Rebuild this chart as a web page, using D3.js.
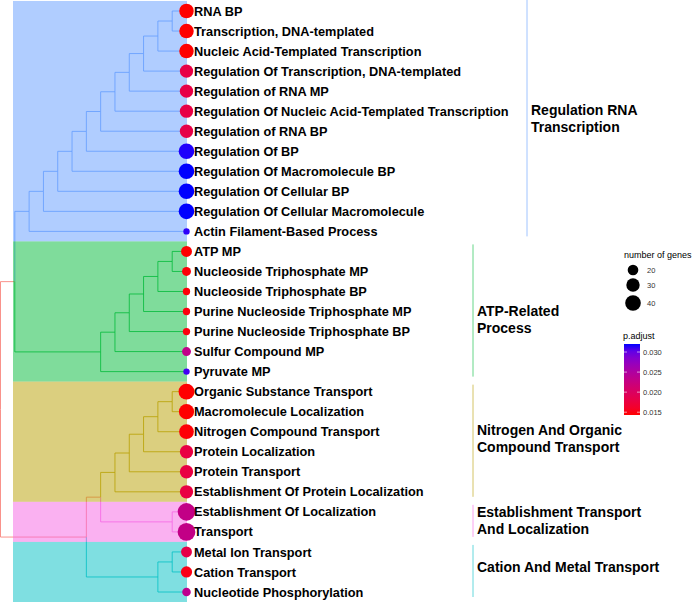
<!DOCTYPE html>
<html>
<head>
<meta charset="utf-8">
<script src="https://cdn.jsdelivr.net/npm/d3@7"></script>
<style>
html, body { margin: 0; padding: 0; background: #ffffff; }
svg { display: block; }
</style>
</head>
<body>
<svg id="chart" width="692" height="602"></svg>
<script>
// ---------------- DATA ----------------
const terms = [
  "RNA BP",
  "Transcription, DNA-templated",
  "Nucleic Acid-Templated Transcription",
  "Regulation Of Transcription, DNA-templated",
  "Regulation of RNA MP",
  "Regulation Of Nucleic Acid-Templated Transcription",
  "Regulation of RNA BP",
  "Regulation Of BP",
  "Regulation Of Macromolecule BP",
  "Regulation Of Cellular BP",
  "Regulation Of Cellular Macromolecule",
  "Actin Filament-Based Process",
  "ATP MP",
  "Nucleoside Triphosphate MP",
  "Nucleoside Triphosphate BP",
  "Purine Nucleoside Triphosphate MP",
  "Purine Nucleoside Triphosphate BP",
  "Sulfur Compound MP",
  "Pyruvate MP",
  "Organic Substance Transport",
  "Macromolecule Localization",
  "Nitrogen Compound Transport",
  "Protein Localization",
  "Protein Transport",
  "Establishment Of Protein Localization",
  "Establishment Of Localization",
  "Transport",
  "Metal Ion Transport",
  "Cation Transport",
  "Nucleotide Phosphorylation"
];
const termCluster = [0,0,0,0,0,0,0,0,0,0,0,0, 1,1,1,1,1,1,1, 2,2,2,2,2,2, 3,3, 4,4,4];
const geneCount = [35,35,35,30,30,30,30,40,40,40,40,9, 21,15,11,11,11,15,9, 41,38,36,30,30,30, 50,51, 21,22,14];
const pAdjust = [0.0143,0.0143,0.0143,0.0180,0.0180,0.0180,0.0182,0.0318,0.0320,0.0320,0.0320,0.0316,
                 0.0143,0.0145,0.0145,0.0147,0.0147,0.0232,0.0312,
                 0.0143,0.0143,0.0145,0.0178,0.0178,0.0178,
                 0.0230,0.0230,
                 0.0182,0.0150,0.0236];
// hclust-style merges: negative = leaf (1-based), positive = earlier merge row (1-based)
const mergeLeft   = [-1, 1, 2, 3, 4, 5, 6, 7, 8, 9,10, -13,12,13,14,15,16, 11, -20,19,20,21,22, -26, 23, -28,26, 25, 18];
const mergeRight  = [-2,-3,-4,-5,-6,-7,-8,-9,-10,-11,-12, -14,-15,-16,-17,-18,-19, 17, -21,-22,-23,-24,-25, -27, 24, -29,-30, 27, 28];
const mergeHeight = [ 1, 2, 3, 4, 5, 6, 7, 8, 9,10,11,  1, 2, 3, 4, 5, 6, 12,  1, 2, 3, 4, 5,  1, 6,  1, 2, 7, 13];
const clusterLabels = [
  ["Regulation RNA", "Transcription"],
  ["ATP-Related", "Process"],
  ["Nitrogen And Organic", "Compound Transport"],
  ["Establishment Transport", "And Localization"],
  ["Cation And Metal Transport"]
];
const sizeBreaks = [20, 30, 40];
const pBreaks = [0.015, 0.020, 0.025, 0.030];

// ---------------- LAYOUT / STYLE ----------------
const rootColor = "#F8766D";
const clusterColors = ["#619CFF", "#00BA38", "#B79F00", "#F564E3", "#00BFC4"];
const font = "'Liberation Sans', Arial, Helvetica, sans-serif";

const svg = d3.select("#chart");

const x = d3.scaleLinear().domain([13, 0]).range([0.5, 186.5]);
const y = d3.scaleLinear().domain([0, terms.length - 1]).range([11, 592]);
const step = y(1) - y(0);

const pDomain = d3.extent(pAdjust);
const color = d3.scaleLinear().domain(pDomain).range(["red", "blue"]).interpolate(d3.interpolateLab);
const area = d3.scaleLinear().domain([20, 40]).range([28.2, 61]);
const radius = n => Math.sqrt(Math.max(area(n), 4));

// build tree nodes
const leaves = terms.map((t, i) => ({ id: -(i + 1), h: 0, y: y(i), group: termCluster[i], children: [] }));
const merges = [];
const getNode = k => (k < 0 ? leaves[-k - 1] : merges[k - 1]);
mergeLeft.forEach((l, i) => {
  const a = getNode(l), b = getNode(mergeRight[i]);
  const node = { id: i + 1, h: mergeHeight[i], y: (a.y + b.y) / 2,
                 group: a.group === b.group ? a.group : -1, children: [a, b] };
  a.parent = node; b.parent = node;
  merges.push(node);
});
const allNodes = leaves.concat(merges);
const colOf = g => (g < 0 ? rootColor : clusterColors[g]);

// tree edges (elbows)
const gTree = svg.append("g");
allNodes.forEach(n => {
  if (!n.parent) return;
  const px = x(n.parent.h), nx = x(n.h);
  gTree.append("path")
    .attr("d", `M${px},${n.parent.y}V${n.y}H${nx}`)
    .attr("fill", "none")
    .attr("stroke", colOf(n.group))
    .attr("stroke-width", 0.8);
});

// cluster highlight rectangles
const clusters = clusterLabels.map((lab, c) => {
  const idx = d3.range(terms.length).filter(i => termCluster[i] === c);
  return { c, first: d3.min(idx), last: d3.max(idx) };
});
svg.append("g").selectAll("rect").data(clusters).join("rect")
  .attr("x", 13)
  .attr("y", d => y(d.first) - step / 2)
  .attr("width", 187 - 13)
  .attr("height", d => y(d.last) - y(d.first) + step)
  .attr("fill", d => clusterColors[d.c])
  .attr("fill-opacity", 0.5);

// tip points
svg.append("g").selectAll("circle").data(terms).join("circle")
  .attr("cx", x(0))
  .attr("cy", (d, i) => y(i))
  .attr("r", (d, i) => radius(geneCount[i]))
  .attr("fill", (d, i) => color(pAdjust[i]));

// tip labels
svg.append("g").selectAll("text").data(terms).join("text")
  .attr("x", 194)
  .attr("y", (d, i) => y(i) + 4.6)
  .attr("font-family", font)
  .attr("font-weight", "bold")
  .attr("font-size", 12.75)
  .attr("fill", "#000")
  .text(d => d);

// clade bars and labels
const barX = [527, 473, 473, 473, 473];
const labelShift = [-2.5, 7.5, -3.5, -1, -4.5];
const gClade = svg.append("g");
clusters.forEach(cl => {
  const bx = barX[cl.c];
  gClade.append("line")
    .attr("x1", bx).attr("x2", bx)
    .attr("y1", cl.c === 0 ? 0 : y(cl.first) - 7)
    .attr("y2", y(cl.last) + 5)
    .attr("stroke", clusterColors[cl.c])
    .attr("stroke-opacity", 0.6)
    .attr("stroke-width", 1);
  const lines = clusterLabels[cl.c];
  const cy = (y(cl.first) + y(cl.last)) / 2 + labelShift[cl.c];
  const lh = 17;
  lines.forEach((ln, j) => {
    gClade.append("text")
      .attr("x", bx + 4)
      .attr("y", cy + (j - (lines.length - 1) / 2) * lh + 5)
      .attr("font-family", font)
      .attr("font-weight", "bold")
      .attr("font-size", 14)
      .attr("fill", "#000")
      .text(ln);
  });
});

// size legend
const gSize = svg.append("g");
gSize.append("text").attr("x", 624).attr("y", 258)
  .attr("font-family", font).attr("font-size", 9).attr("fill", "#000").text("number of genes");
const sizeY = [270, 285, 303];
sizeBreaks.forEach((s, i) => {
  gSize.append("circle").attr("cx", 633).attr("cy", sizeY[i]).attr("r", radius(s)).attr("fill", "#000");
  gSize.append("text").attr("x", 647).attr("y", sizeY[i] + 2.8)
    .attr("font-family", font).attr("font-size", 7.5).attr("fill", "#333").text(s);
});

// colour legend
const gCol = svg.append("g");
gCol.append("text").attr("x", 623).attr("y", 339)
  .attr("font-family", font).attr("font-size", 9).attr("fill", "#000").text("p.adjust");
const barTop = 344, barBot = 415;
const py = d3.scaleLinear().domain(pDomain).range([barBot, barTop]);
const defs = svg.append("defs");
const grad = defs.append("linearGradient").attr("id", "pgrad")
  .attr("x1", 0).attr("y1", 1).attr("x2", 0).attr("y2", 0);
d3.range(0, 1.0001, 0.1).forEach(t => {
  grad.append("stop").attr("offset", t)
    .attr("stop-color", color(pDomain[0] + t * (pDomain[1] - pDomain[0])));
});
gCol.append("rect").attr("x", 624).attr("y", barTop).attr("width", 16).attr("height", barBot - barTop)
  .attr("fill", "url(#pgrad)");
pBreaks.forEach(p => {
  gCol.append("line").attr("x1", 624).attr("x2", 627).attr("y1", py(p)).attr("y2", py(p))
    .attr("stroke", "#fff").attr("stroke-width", 0.6);
  gCol.append("line").attr("x1", 637).attr("x2", 640).attr("y1", py(p)).attr("y2", py(p))
    .attr("stroke", "#fff").attr("stroke-width", 0.6);
  gCol.append("text").attr("x", 643).attr("y", py(p) + 2.8)
    .attr("font-family", font).attr("font-size", 7.5).attr("fill", "#333").text(p.toFixed(3));
});
</script>
</body>
</html>
